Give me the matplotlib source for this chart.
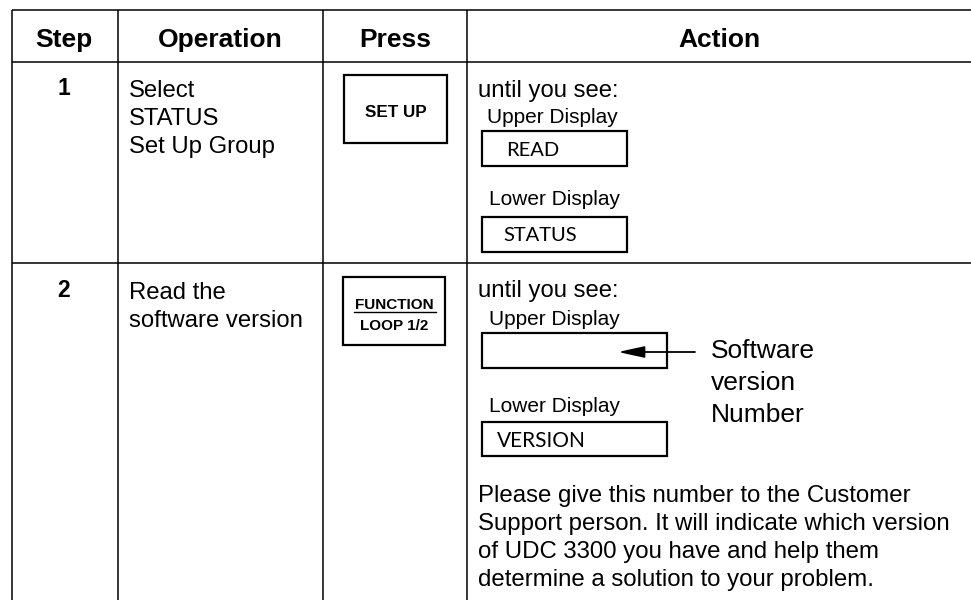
import matplotlib.pyplot as plt
from matplotlib.patches import Rectangle

# table text
headers = ['Step', 'Operation', 'Press', 'Action']
steps = ['1', '2']
operations = [['Select', 'STATUS', 'Set Up Group'],
              ['Read the', 'software version']]
press_keys = [['SET UP'], ['FUNCTION', 'LOOP 1/2']]
display_labels = ['Upper Display', 'Lower Display']
row1_displays = ['READ', 'STATUS']
row2_displays = ['', 'VERSION']
callout = ['Software', 'version', 'Number']
note = ['Please give this number to the Customer',
        'Support person. It will indicate which version',
        'of UDC 3300 you have and help them',
        'determine a solution to your problem.']

W, H = 971, 600
fig = plt.figure(figsize=(W / 100, H / 100), dpi=100)
ax = fig.add_axes([0, 0, 1, 1])
ax.set_xlim(0, W)
ax.set_ylim(H, 0)
ax.axis('off')

SANS = 'Liberation Sans'
DISP = 'Lato'
lw_grid = 1.1
lw_box = 1.6

# grid lines
col_x = [12, 118, 323, 467]
row_y = [10, 62, 263]
for y in row_y:
    ax.plot([12, W], [y, y], color='black', lw=lw_grid, solid_capstyle='butt')
for x in col_x:
    ax.plot([x, x], [10, H], color='black', lw=lw_grid, solid_capstyle='butt')

# headers
head_cx = [64, 220, 395, 719]
for txt, cx in zip(headers, head_cx):
    ax.text(cx, 47, txt, ha='center', va='baseline', fontsize=19,
            fontweight='bold', family=SANS)

# step numbers and operations
step_base = [95, 297]
for i, s in enumerate(steps):
    ax.text(64, step_base[i], s, ha='center', va='baseline', fontsize=16.5,
            fontweight='bold', family=SANS)
    for j, line in enumerate(operations[i]):
        ax.text(129, step_base[i] + 2 + j * 28, line, ha='left', va='baseline',
                fontsize=17.2, family=SANS)

# press keys
ax.add_patch(Rectangle((344, 75), 103, 68, fill=False, lw=lw_box, ec='black'))
ax.text(395.5, 117, press_keys[0][0], ha='center', va='baseline', fontsize=12.3,
        fontweight='bold', family=SANS)
ax.add_patch(Rectangle((343, 277), 102, 68, fill=False, lw=lw_box, ec='black'))
ax.text(394, 309, press_keys[1][0], ha='center', va='baseline', fontsize=11,
        fontweight='bold', family=SANS)
ax.plot([354, 436], [311.5, 311.5], color='black', lw=1.0)
ax.text(394, 330, press_keys[1][1], ha='center', va='baseline', fontsize=11,
        fontweight='bold', family=SANS)

# action row 1
ax.text(478, 97, 'until you see:', ha='left', va='baseline', fontsize=17.2, family=SANS)
ax.text(487, 123, display_labels[0], ha='left', va='baseline', fontsize=15, family=SANS)
ax.add_patch(Rectangle((482, 131), 145, 35, fill=False, lw=lw_box, ec='black'))
ax.text(506, 156, row1_displays[0], ha='left', va='baseline', fontsize=14.5, family=DISP)
ax.text(489, 205, display_labels[1], ha='left', va='baseline', fontsize=15, family=SANS)
ax.add_patch(Rectangle((482, 217), 145, 35, fill=False, lw=lw_box, ec='black'))
ax.text(503, 241, row1_displays[1], ha='left', va='baseline', fontsize=14.5, family=DISP)

# action row 2
ax.text(478, 297, 'until you see:', ha='left', va='baseline', fontsize=17.2, family=SANS)
ax.text(489, 325, display_labels[0], ha='left', va='baseline', fontsize=15, family=SANS)
ax.add_patch(Rectangle((482, 333), 185, 35, fill=False, lw=lw_box, ec='black'))
ax.text(506, 358, row2_displays[0], ha='left', va='baseline', fontsize=14.5, family=DISP)
ax.text(489, 412, display_labels[1], ha='left', va='baseline', fontsize=15, family=SANS)
ax.add_patch(Rectangle((482, 422), 185, 34, fill=False, lw=lw_box, ec='black'))
ax.text(497, 447, row2_displays[1], ha='left', va='baseline', fontsize=15, family=DISP)

# callout arrow
ax.annotate('', xy=(618, 352), xytext=(695, 352),
            arrowprops=dict(arrowstyle='-|>,head_length=1.6,head_width=0.35',
                            color='black', lw=1.3, shrinkA=0, shrinkB=0))
for k, line in enumerate(callout):
    ax.text(711, 358 + k * 32, line, ha='left', va='baseline', fontsize=19, family=SANS)

for k, line in enumerate(note):
    ax.text(478, 502 + k * 28, line, ha='left', va='baseline', fontsize=17.3, family=SANS)

fig.savefig('out.png', dpi=100)
